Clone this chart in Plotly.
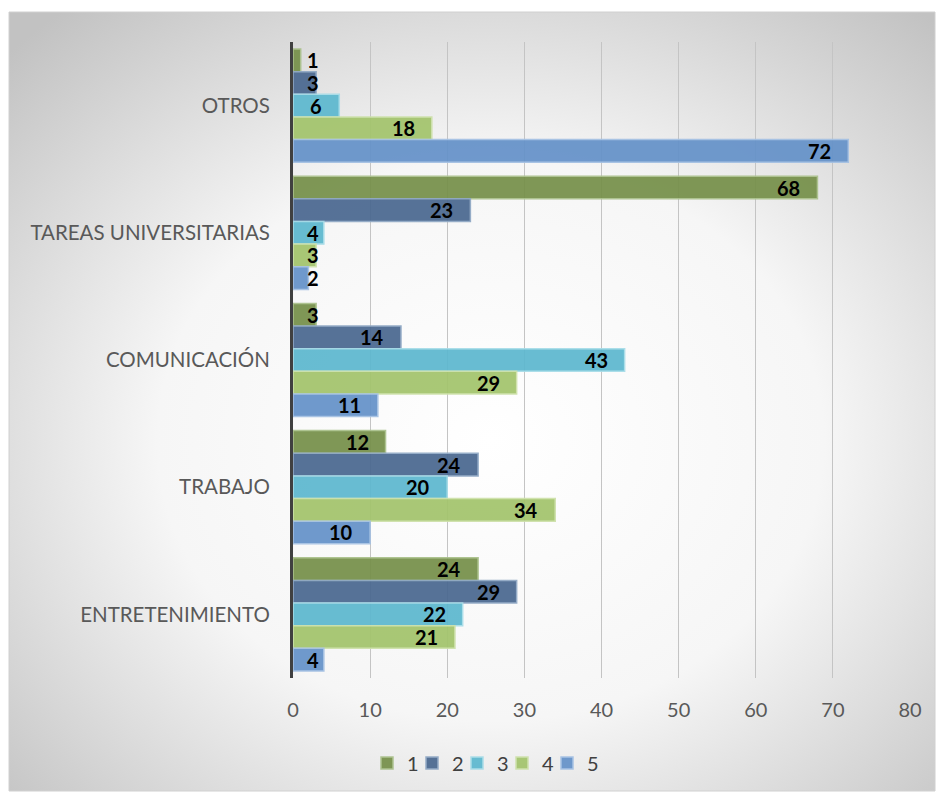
import base64
import plotly.graph_objects as go

# Categories listed top to bottom (y axis is reversed)
categories = ["OTROS", "TAREAS UNIVERSITARIAS", "COMUNICACIÓN", "TRABAJO", "ENTRETENIMIENTO"]
series_names = ["1", "2", "3", "4", "5"]
s1 = [1, 68, 3, 12, 24]
s2 = [3, 23, 14, 24, 29]
s3 = [6, 4, 43, 20, 22]
s4 = [18, 3, 29, 34, 21]
s5 = [72, 2, 11, 10, 4]
x_ticks = [0, 10, 20, 30, 40, 50, 60, 70, 80]

series_values = [s1, s2, s3, s4, s5]
fills = ["#76904A", "#4A6890", "#5DB8CF", "#A3C46C", "#6592C9"]
edges = ["#A9C08A", "#8EA7C4", "#A6DCE8", "#CDE1A9", "#A3C0E3"]

W, H = 939, 796
L, R, T, B = 293, 29, 42, 118
PW, PH = W - L - R, H - T - B
XMAX = 80
FONT = "Lato"


def px_to_paper_x(px):
    return (px - L) / PW


def px_to_paper_y(py):
    return (H - B - py) / PH


fig = go.Figure()
legend_keys = ["legend", "legend2", "legend3", "legend4", "legend5"]
for name, vals, fc, ec, lk in zip(series_names, series_values, fills, edges, legend_keys):
    fig.add_trace(go.Bar(
        y=categories, x=vals, name=name, orientation="h",
        marker=dict(color=fc, line=dict(color=ec, width=1.5)),
        opacity=0.93, legend=lk, showlegend=True,
    ))

# Value labels at the inner end of each bar
group_h = PH / len(categories)
bar_h = group_h * 0.89 / len(series_names)
annotations = []
for si, vals in enumerate(series_values):
    for ci, v in enumerate(vals):
        text_w = 11 * len(str(v))
        bar_px = v * PW / XMAX
        offset = (si - (len(series_names) - 1) / 2) * bar_h
        yc = ci + offset / group_h
        if bar_px - 14 - text_w >= 14:
            annotations.append(dict(x=v, y=yc, xref="x", yref="y", text=f"<b>{v}</b>",
                                    showarrow=False, xanchor="right", xshift=-15,
                                    font=dict(family=FONT, size=20, color="#000000")))
        else:
            annotations.append(dict(x=0, y=yc, xref="x", yref="y", text=f"<b>{v}</b>",
                                    showarrow=False, xanchor="left", xshift=12,
                                    font=dict(family=FONT, size=20, color="#000000")))

# Soft radial background behind the whole chart block
bx0, bx1, by0, by1 = 9, 935, 12, 791
svg = f"""<svg xmlns='http://www.w3.org/2000/svg' width='{bx1-bx0}' height='{by1-by0}'>
<defs><radialGradient id='g' cx='52%' cy='55%' r='72%'>
<stop offset='0%' stop-color='#ffffff'/><stop offset='50%' stop-color='#f6f6f6'/>
<stop offset='100%' stop-color='#c2c2c2'/></radialGradient></defs>
<rect width='100%' height='100%' fill='url(#g)'/></svg>"""
uri = "data:image/svg+xml;base64," + base64.b64encode(svg.encode()).decode()

# One small legend box per series, spaced evenly along the bottom
legend_boxes = {}
for i, lk in enumerate(legend_keys):
    legend_boxes[lk] = dict(
        orientation="h", x=px_to_paper_x(367 + 45 * i), y=px_to_paper_y(763),
        xanchor="left", yanchor="middle", bgcolor="rgba(0,0,0,0)",
        font=dict(family=FONT, size=20, color="#404040"),
        itemwidth=30, borderwidth=0, visible=True,
    )

fig.update_layout(
    width=W, height=H,
    margin=dict(l=L, r=R, t=T, b=B),
    paper_bgcolor="#ffffff", plot_bgcolor="rgba(0,0,0,0)",
    showlegend=True,
    barmode="group", bargap=0.11, bargroupgap=0,
    font=dict(family=FONT, color="#595959"),
    annotations=annotations,
    images=[dict(source=uri, xref="paper", yref="paper",
                 x=px_to_paper_x(bx0), y=px_to_paper_y(by0),
                 sizex=px_to_paper_x(bx1) - px_to_paper_x(bx0),
                 sizey=px_to_paper_y(by0) - px_to_paper_y(by1),
                 xanchor="left", yanchor="top", sizing="stretch", layer="below")],
    shapes=[dict(type="rect", xref="paper", yref="paper",
                 x0=px_to_paper_x(bx0), x1=px_to_paper_x(bx1),
                 y0=px_to_paper_y(by1), y1=px_to_paper_y(by0),
                 line=dict(color="#d0d0d0", width=1), layer="below")],
    **legend_boxes,
    xaxis=dict(range=[0, XMAX], tickvals=x_ticks, showgrid=True, gridcolor="#c4c4c4",
               gridwidth=1, zeroline=False, showline=False,
               tickfont=dict(family=FONT, size=20, color="#595959"),
               ticklabelstandoff=18, fixedrange=True),
    yaxis=dict(autorange="reversed", showline=True, linecolor="#404040", linewidth=3,
               tickfont=dict(family=FONT, size=20.5, color="#595959"),
               ticks="outside", ticklen=16, tickcolor="rgba(0,0,0,0)",
               showgrid=False),
)

fig.write_html("out.html")
